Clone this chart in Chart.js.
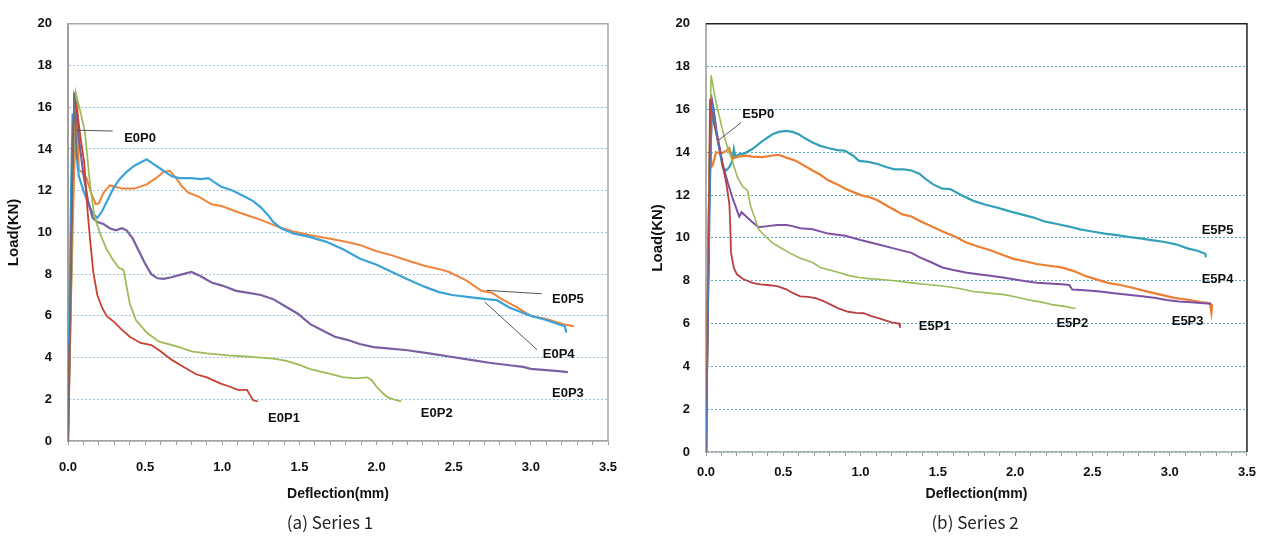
<!DOCTYPE html>
<html><head><meta charset="utf-8">
<script src="https://cdn.jsdelivr.net/npm/chart.js@4.4.0/dist/chart.umd.min.js"></script>
<style>
html,body{margin:0;padding:0;background:#fff;width:1265px;height:542px;overflow:hidden}
.box{position:absolute;top:0;height:510px}
.cap{position:absolute;top:509px;font-family:"Noto Sans CJK KR","Noto Sans",sans-serif;font-size:17px;color:#222;text-align:center;width:300px;line-height:26px}
</style></head><body>
<div class="box" style="left:0;width:640px"><canvas id="c1"></canvas></div>
<div class="box" style="left:640px;width:625px"><canvas id="c2"></canvas></div>
<div class="cap" style="left:180px">(a) Series 1</div>
<div class="cap" style="left:825px">(b) Series 2</div>
<script>
// ---------- Series 1 ----------
const names1 = ['E0P0','E0P1','E0P2','E0P3','E0P4','E0P5'];
const e0p0X = [0, 0.02, 0.04, 0.05, 0.06];
const e0p0Y = [0, 9, 16.7, 14.9, 13.5];
const e0p1X = [0, 0.015, 0.03, 0.04, 0.06, 0.08, 0.106, 0.127, 0.145, 0.164, 0.19, 0.22, 0.25, 0.3, 0.34, 0.4, 0.47, 0.54, 0.6, 0.67, 0.75, 0.83, 0.9, 0.99, 1.05, 1.1, 1.16, 1.18, 1.2, 1.23];
const e0p1Y = [0, 6, 13, 16.5, 15.8, 14.6, 13.3, 11.0, 9.5, 8.1, 7.0, 6.4, 6.0, 5.7, 5.4, 5.0, 4.7, 4.6, 4.3, 3.9, 3.55, 3.2, 3.05, 2.75, 2.6, 2.45, 2.45, 2.2, 1.95, 1.9];
const e0p2X = [0, 0.02, 0.035, 0.05, 0.08, 0.11, 0.14, 0.17, 0.21, 0.25, 0.29, 0.33, 0.36, 0.38, 0.40, 0.44, 0.51, 0.59, 0.7, 0.8, 0.9, 1.04, 1.15, 1.25, 1.33, 1.41, 1.5, 1.57, 1.68, 1.78, 1.86, 1.94, 1.97, 2.0, 2.04, 2.07, 2.11, 2.16];
const e0p2Y = [0, 7, 14, 16.7, 15.8, 14.8, 12.5, 10.8, 9.9, 9.2, 8.7, 8.3, 8.2, 7.4, 6.6, 5.8, 5.2, 4.76, 4.55, 4.3, 4.2, 4.1, 4.05, 4.0, 3.95, 3.85, 3.65, 3.45, 3.25, 3.06, 3.0, 3.05, 2.9, 2.6, 2.3, 2.1, 2.0, 1.9];
const e0p3X = [0, 0.02, 0.03, 0.045, 0.07, 0.1, 0.13, 0.16, 0.19, 0.23, 0.27, 0.31, 0.35, 0.38, 0.42, 0.46, 0.5, 0.54, 0.58, 0.62, 0.67, 0.72, 0.8, 0.86, 0.93, 1.0, 1.09, 1.17, 1.25, 1.33, 1.41, 1.49, 1.57, 1.65, 1.73, 1.81, 1.89, 1.98, 2.07, 2.2, 2.34, 2.47, 2.6, 2.73, 2.86, 2.95, 3.0, 3.1, 3.18, 3.24];
const e0p3Y = [0, 8, 14, 16.6, 14.5, 12.8, 11.5, 10.7, 10.5, 10.4, 10.2, 10.1, 10.2, 10.1, 9.7, 9.1, 8.5, 8.0, 7.8, 7.77, 7.85, 7.95, 8.1, 7.9, 7.6, 7.45, 7.2, 7.1, 7.0, 6.8, 6.45, 6.1, 5.6, 5.3, 5.0, 4.85, 4.65, 4.5, 4.44, 4.35, 4.2, 4.05, 3.9, 3.75, 3.63, 3.55, 3.46, 3.4, 3.35, 3.3];
const e0p4X = [0, 0.01, 0.02, 0.03, 0.05, 0.07, 0.1, 0.13, 0.16, 0.19, 0.22, 0.26, 0.3, 0.34, 0.38, 0.43, 0.47, 0.51, 0.55, 0.59, 0.63, 0.67, 0.72, 0.8, 0.86, 0.91, 0.95, 0.99, 1.07, 1.15, 1.2, 1.25, 1.3, 1.33, 1.38, 1.46, 1.56, 1.67, 1.78, 1.89, 2.0, 2.1, 2.2, 2.31, 2.4, 2.49, 2.6, 2.71, 2.78, 2.86, 2.93, 3.0, 3.1, 3.18, 3.22, 3.23];
const e0p4Y = [0, 6, 12, 15.7, 14.0, 12.7, 12.0, 11.4, 10.9, 10.7, 11.0, 11.6, 12.2, 12.6, 12.9, 13.2, 13.35, 13.5, 13.3, 13.1, 12.9, 12.7, 12.6, 12.6, 12.55, 12.6, 12.4, 12.2, 12.0, 11.7, 11.5, 11.2, 10.8, 10.5, 10.2, 9.95, 9.8, 9.56, 9.2, 8.75, 8.45, 8.1, 7.75, 7.4, 7.15, 7.0, 6.9, 6.8, 6.75, 6.4, 6.2, 6.0, 5.8, 5.6, 5.5, 5.2];
const e0p5X = [0, 0.02, 0.04, 0.06, 0.07, 0.09, 0.12, 0.15, 0.18, 0.2, 0.23, 0.27, 0.3, 0.35, 0.43, 0.51, 0.57, 0.62, 0.66, 0.7, 0.74, 0.78, 0.85, 0.93, 1.0, 1.09, 1.17, 1.25, 1.35, 1.46, 1.58, 1.7, 1.8, 1.89, 2.0, 2.1, 2.2, 2.31, 2.4, 2.47, 2.58, 2.68, 2.75, 2.81, 2.9, 3.0, 3.1, 3.21, 3.28];
const e0p5Y = [0, 7, 13, 16.3, 13.0, 12.9, 12.6, 11.9, 11.35, 11.4, 11.9, 12.25, 12.2, 12.1, 12.1, 12.3, 12.6, 12.9, 12.95, 12.6, 12.2, 11.9, 11.7, 11.35, 11.25, 11.0, 10.8, 10.6, 10.3, 10.05, 9.85, 9.7, 9.55, 9.4, 9.1, 8.9, 8.65, 8.4, 8.25, 8.1, 7.7, 7.2, 7.1, 6.8, 6.45, 6.0, 5.85, 5.6, 5.5];

// ---------- Series 2 ----------
const names2 = ['E5P0','E5P1','E5P2','E5P3','E5P4','E5P5'];
const e5p0X = [0, 0.03, 0.04, 0.076, 0.1];
const e5p0Y = [0, 13, 16.3, 14.5, 13.6];
const e5p1X = [0, 0.01, 0.02, 0.027, 0.05, 0.087, 0.11, 0.13, 0.151, 0.156, 0.162, 0.18, 0.2, 0.24, 0.3, 0.35, 0.4, 0.46, 0.52, 0.56, 0.61, 0.66, 0.71, 0.76, 0.81, 0.86, 0.92, 0.97, 1.02, 1.07, 1.12, 1.17, 1.2, 1.25, 1.255];
const e5p1Y = [0, 5, 11, 16.5, 15.4, 14.2, 13.3, 12.6, 11.6, 10.8, 9.3, 8.6, 8.3, 8.08, 7.9, 7.83, 7.8, 7.75, 7.6, 7.43, 7.27, 7.25, 7.19, 7.05, 6.87, 6.7, 6.55, 6.5, 6.48, 6.35, 6.24, 6.12, 6.05, 6.0, 5.8];
const e5p2X = [0, 0.01, 0.02, 0.033, 0.06, 0.108, 0.14, 0.17, 0.205, 0.237, 0.255, 0.27, 0.28, 0.29, 0.34, 0.38, 0.43, 0.48, 0.54, 0.61, 0.69, 0.74, 0.8, 0.86, 0.92, 0.99, 1.05, 1.12, 1.22, 1.33, 1.43, 1.53, 1.63, 1.73, 1.83, 1.93, 2.0, 2.09, 2.17, 2.25, 2.32, 2.39];
const e5p2Y = [0, 6, 13, 17.6, 16.5, 15.0, 14.2, 13.6, 12.8, 12.4, 12.3, 12.2, 11.8, 11.46, 10.4, 10.1, 9.77, 9.55, 9.3, 9.05, 8.85, 8.62, 8.5, 8.38, 8.25, 8.15, 8.1, 8.07, 8.0, 7.9, 7.82, 7.75, 7.65, 7.5, 7.42, 7.35, 7.25, 7.1, 7.0, 6.87, 6.8, 6.7];
const e5p3X = [0, 0.01, 0.02, 0.033, 0.044, 0.07, 0.108, 0.14, 0.17, 0.2, 0.215, 0.23, 0.26, 0.29, 0.34, 0.4, 0.46, 0.52, 0.56, 0.61, 0.69, 0.79, 0.85, 0.9, 1.0, 1.11, 1.22, 1.33, 1.38, 1.46, 1.53, 1.6, 1.68, 1.76, 1.84, 1.92, 1.99, 2.07, 2.14, 2.22, 2.3, 2.35, 2.37, 2.45, 2.55, 2.64, 2.73, 2.82, 2.91, 2.98, 3.06, 3.14, 3.22, 3.27];
const e5p3Y = [0, 6, 12, 16.7, 16.2, 14.9, 13.45, 12.6, 11.9, 11.3, 11.0, 11.2, 11.0, 10.8, 10.5, 10.55, 10.6, 10.6, 10.55, 10.45, 10.4, 10.2, 10.15, 10.1, 9.9, 9.7, 9.5, 9.3, 9.1, 8.85, 8.62, 8.5, 8.38, 8.3, 8.23, 8.15, 8.07, 7.98, 7.9, 7.87, 7.83, 7.8, 7.59, 7.55, 7.5, 7.42, 7.35, 7.27, 7.19, 7.1, 7.03, 6.99, 6.95, 6.92];
const e5p4X = [0, 0.005, 0.015, 0.022, 0.027, 0.033, 0.044, 0.065, 0.1, 0.13, 0.15, 0.17, 0.215, 0.26, 0.3, 0.365, 0.43, 0.47, 0.52, 0.58, 0.63, 0.69, 0.74, 0.79, 0.85, 0.9, 0.95, 1.0, 1.06, 1.11, 1.17, 1.22, 1.27, 1.33, 1.38, 1.44, 1.53, 1.6, 1.68, 1.76, 1.84, 1.92, 1.99, 2.07, 2.14, 2.22, 2.3, 2.38, 2.45, 2.53, 2.6, 2.68, 2.76, 2.85, 2.94, 3.03, 3.12, 3.2, 3.26, 3.27, 3.275];
const e5p4Y = [0, 5, 9, 13, 16.4, 13.3, 13.4, 14.0, 13.95, 14.05, 14.2, 13.7, 13.8, 13.84, 13.8, 13.77, 13.85, 13.88, 13.75, 13.6, 13.4, 13.15, 12.95, 12.69, 12.5, 12.3, 12.15, 12.0, 11.9, 11.76, 11.5, 11.3, 11.1, 11.0, 10.8, 10.6, 10.3, 10.1, 9.8, 9.6, 9.42, 9.2, 9.02, 8.9, 8.78, 8.7, 8.62, 8.45, 8.23, 8.05, 7.9, 7.8, 7.67, 7.5, 7.35, 7.2, 7.11, 7.0, 6.95, 6.5, 6.9];
const e5p5X = [0, 0.01, 0.02, 0.04, 0.05, 0.065, 0.085, 0.108, 0.13, 0.15, 0.17, 0.18, 0.19, 0.215, 0.25, 0.3, 0.36, 0.43, 0.47, 0.52, 0.56, 0.6, 0.64, 0.69, 0.74, 0.79, 0.85, 0.9, 0.95, 0.99, 1.05, 1.11, 1.17, 1.22, 1.28, 1.33, 1.38, 1.42, 1.47, 1.53, 1.58, 1.65, 1.73, 1.81, 1.89, 1.96, 2.04, 2.12, 2.19, 2.27, 2.35, 2.42, 2.5, 2.58, 2.66, 2.73, 2.81, 2.88, 2.96, 3.04, 3.12, 3.18, 3.23, 3.235];
const e5p5Y = [0, 6, 12, 16.3, 16.0, 15.0, 14.2, 13.3, 13.15, 13.3, 13.6, 14.15, 13.8, 13.9, 13.95, 14.15, 14.5, 14.84, 14.95, 15.0, 14.95, 14.84, 14.65, 14.46, 14.3, 14.2, 14.1, 14.07, 13.85, 13.6, 13.55, 13.45, 13.3, 13.2, 13.2, 13.15, 13.0, 12.76, 12.5, 12.3, 12.28, 12.0, 11.73, 11.55, 11.4, 11.25, 11.1, 10.95, 10.77, 10.65, 10.53, 10.4, 10.3, 10.2, 10.13, 10.05, 9.98, 9.9, 9.82, 9.7, 9.5, 9.4, 9.26, 9.1];

const yTicks = [0,2,4,6,8,10,12,14,16,18,20];
const xTickLabels = ['0.0','0.5','1.0','1.5','2.0','2.5','3.0','3.5'];

// annotation placement (label centre / pointer ends, in data units)
const ann1 = {
  lx:[0.467, 1.40, 2.39, 3.24, 3.18, 3.24],
  ly:[14.5, 1.09, 1.3, 2.27, 4.16, 6.8],
  pointers:[[0.056,14.9,0.29,14.86],[2.713,7.22,3.07,7.06],[2.70,6.67,3.04,4.38]]
};
const ann2 = {
  lx:[0.338, 1.48, 2.37, 3.116, 3.31, 3.31],
  ly:[15.76, 5.85, 6.0, 6.08, 8.06, 10.34],
  pointers:[[0.226,15.38,0.076,14.53]]
};

function pts(xs, ys){ return xs.map((v,i)=>({x:v, y:ys[i]})); }
function ds(label, xs, ys, color, w){
  return {label, data: pts(xs,ys), borderColor: color, backgroundColor: color, borderWidth: w,
    showLine: true, pointRadius: 0, tension: 0, fill: false};
}

const annot = {
  id:'annot',
  afterDatasetsDraw(chart){
    const o = chart.options.plugins.annot;
    const {ctx} = chart; const x = chart.scales.x, y = chart.scales.y; const a = chart.chartArea;
    ctx.save();
    ctx.strokeStyle = o.frameColor; ctx.lineWidth = o.frameWidth;
    ctx.beginPath(); ctx.moveTo(a.left, a.top); ctx.lineTo(a.right, a.top); ctx.lineTo(a.right, a.bottom); ctx.stroke();
    ctx.strokeStyle = '#555'; ctx.lineWidth = 1;
    o.pointers.forEach(p=>{ ctx.beginPath(); ctx.moveTo(x.getPixelForValue(p[0]), y.getPixelForValue(p[1])); ctx.lineTo(x.getPixelForValue(p[2]), y.getPixelForValue(p[3])); ctx.stroke(); });
    ctx.font = 'bold 13px "Liberation Sans", Arial, sans-serif'; ctx.fillStyle = '#111';
    ctx.textAlign = 'center'; ctx.textBaseline = 'middle';
    o.names.forEach((n,i)=> ctx.fillText(n, x.getPixelForValue(o.lx[i]), y.getPixelForValue(o.ly[i])));
    ctx.restore();
  }
};

function makeOpts(cfg){
  return {
    responsive: true, maintainAspectRatio: false, animation: false,
    layout: {padding: {top: 18, right: cfg.padRight, left: 0, bottom: 0}},
    plugins: {legend: {display: false}, tooltip: {enabled: false},
      annot: {names: cfg.names, lx: cfg.ann.lx, ly: cfg.ann.ly, pointers: cfg.ann.pointers, frameColor: cfg.frameColor, frameWidth: cfg.frameWidth}},
    scales: {
      x: {type: 'linear', min: 0, max: 3.5,
        ticks: {stepSize: 0.1, autoSkip: false, maxRotation: 0, padding: cfg.xPad, color: '#111',
          font: {family: '"Liberation Sans", Arial, sans-serif', size: 13, weight: 'bold'},
          callback: (v)=>{ const k = Math.round(v*10); return k % 5 === 0 ? xTickLabels[k/5] : ''; }},
        grid: {drawOnChartArea: false, drawTicks: true, tickLength: 4, color: '#999', lineWidth: 1},
        border: {display: true, color: cfg.axisColor, width: 1.5},
        title: {display: true, text: 'Deflection(mm)', color: '#111', padding: {top: 0, bottom: 7},
          font: {family: '"Liberation Sans", Arial, sans-serif', size: 14, weight: 'bold'}},
        afterFit: (s)=>{ s.height = cfg.xHeight; }
      },
      y: {type: 'linear', min: 0, max: 20,
        afterBuildTicks: (s)=>{ s.ticks = yTicks.map(v=>({value: v})); },
        ticks: {padding: 16, color: '#111', font: {family: '"Liberation Sans", Arial, sans-serif', size: 13, weight: 'bold'}},
        grid: {drawTicks: false, color: cfg.gridColor, lineWidth: 1},
        border: {display: true, color: cfg.axisColor, width: 2, dash: [2, 2]},
        title: {display: true, text: 'Load(KN)', color: '#111', padding: {top: cfg.yTitlePad, bottom: 0},
          font: {family: '"Liberation Sans", Arial, sans-serif', size: 15, weight: 'bold'}},
        afterFit: (s)=>{ s.width = cfg.yWidth; }
      }
    }
  };
}

new Chart(document.getElementById('c1'), {
  type: 'scatter',
  data: {datasets: [
    ds(names1[0], e0p0X, e0p0Y, '#707070', 1.5),
    ds(names1[1], e0p1X, e0p1Y, '#c8412f', 1.8),
    ds(names1[2], e0p2X, e0p2Y, '#9dbb59', 1.8),
    ds(names1[3], e0p3X, e0p3Y, '#7a60a3', 2.2),
    ds(names1[4], e0p4X, e0p4Y, '#3aa3d8', 2.2),
    ds(names1[5], e0p5X, e0p5Y, '#f0843c', 2)
  ]},
  options: makeOpts({names: names1, ann: ann1, padRight: 32, xPad: 15, xHeight: 69, yWidth: 68, yTitlePad: 5,
    gridColor: '#9fc3e0', axisColor: '#a0a0a0', frameColor: '#a8a8a8', frameWidth: 1.5}),
  plugins: [annot]
});

new Chart(document.getElementById('c2'), {
  type: 'scatter',
  data: {datasets: [
    ds(names2[0], e5p0X, e5p0Y, '#4f7fbf', 1.2),
    ds(names2[1], e5p1X, e5p1Y, '#b8403f', 1.8),
    ds(names2[2], e5p2X, e5p2Y, '#9bbb59', 1.6),
    ds(names2[3], e5p3X, e5p3Y, '#7d52a6', 2),
    ds(names2[4], e5p4X, e5p4Y, '#ee7e32', 2.2),
    ds(names2[5], e5p5X, e5p5Y, '#35a1b9', 2.2)
  ]},
  options: makeOpts({names: names2, ann: ann2, padRight: 14, xPad: 9, xHeight: 58, yWidth: 66, yTitlePad: 9,
    gridColor: '#5eaacb', axisColor: '#b0b0b0', frameColor: '#222', frameWidth: 1.5}),
  plugins: [annot]
});
</script>
</body></html>
